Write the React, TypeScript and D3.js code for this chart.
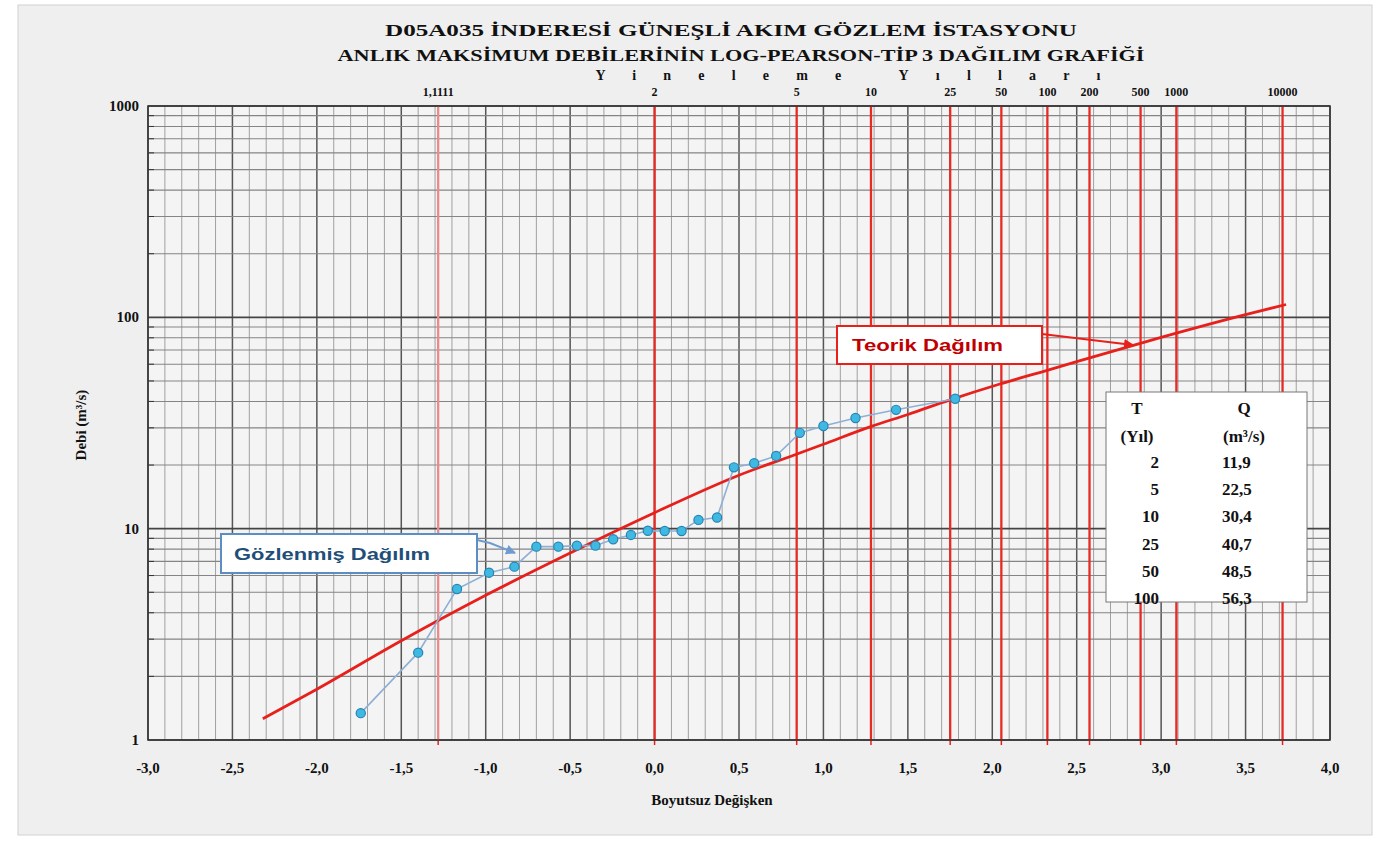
import React from 'react';
import * as d3 from 'd3';

const obsX = [-1.74, -1.40, -1.17, -0.98, -0.83, -0.70, -0.57, -0.46, -0.35, -0.245, -0.14, -0.04, 0.06, 0.16, 0.26, 0.37, 0.47, 0.59, 0.72, 0.86, 1.0, 1.19, 1.43, 1.78];
const obsQ = [1.34, 2.59, 5.18, 6.19, 6.61, 8.22, 8.22, 8.31, 8.31, 8.91, 9.34, 9.78, 9.75, 9.75, 11.0, 11.3, 19.5, 20.4, 22.1, 28.4, 30.6, 33.4, 36.5, 41.2];

// theoretical Log-Pearson III curve
const theoX = [-2.32, -2.0, -1.5, -1.0, -0.5, 0, 0.5, 0.84, 1.0, 1.28, 1.5, 1.75, 2.05, 2.33, 2.5, 3.0, 3.5, 3.74];
const theoQ = [1.26, 1.74, 2.95, 4.84, 7.67, 11.9, 17.9, 22.5, 25.1, 30.4, 34.7, 40.7, 48.5, 56.3, 61.7, 80.4, 103, 115];

// return period lines (top axis)
const returnLabels = ['1,1111', '2', '5', '10', '25', '50', '100', '200', '500', '1000', '10000'];
const returnZ = [-1.2816, 0, 0.8416, 1.2816, 1.7507, 2.0537, 2.3263, 2.5758, 2.8782, 3.0902, 3.719];

// table
const tableT = ['2', '5', '10', '25', '50', '100'];
const tableQ = ['11,9', '22,5', '30,4', '40,7', '48,5', '56,3'];

const xTicks = [-3, -2.5, -2, -1.5, -1, -0.5, 0, 0.5, 1, 1.5, 2, 2.5, 3, 3.5, 4];
const yTicks = [1, 10, 100, 1000];

const W = 1386, H = 841;
const L = 148, R = 1330, T = 106, B = 740;
const serif = "'Liberation Serif', 'DejaVu Serif', serif";
const sans = "'Liberation Sans', Arial, sans-serif";

export default function App() {
  const x = d3.scaleLinear().domain([-3, 4]).range([L, R]);
  const y = d3.scaleLog().domain([1, 1000]).range([B, T]);

  const minorX = d3.range(-30, 41).map(i => i / 10);
  const minorY: number[] = [];
  [1, 10, 100].forEach(d => { for (let m = 2; m <= 9; m++) minorY.push(d * m); });

  const theoLine = d3.line<number>()
    .x((d, i) => x(theoX[i]))
    .y((d, i) => y(theoQ[i]))
    .curve(d3.curveMonotoneX);
  const obsLine = d3.line<number>()
    .x((d, i) => x(obsX[i]))
    .y((d, i) => y(obsQ[i]));

  const fmt = (v: number) => v.toFixed(1).replace('.', ',');

  return (
    <svg width={W} height={H} style={{ position: 'absolute', left: 0, top: 0 }}>
      <defs>
        <marker id="arrRed" viewBox="0 0 10 10" refX="9" refY="5" markerWidth="5" markerHeight="5" orient="auto">
          <path d="M0,0 L10,5 L0,10 z" fill="#e8201c" />
        </marker>
        <marker id="arrBlue" viewBox="0 0 10 10" refX="9" refY="5" markerWidth="5" markerHeight="5" orient="auto">
          <path d="M0,0 L10,5 L0,10 z" fill="#6f9bd0" />
        </marker>
      </defs>
      <rect x={0} y={0} width={W} height={H} fill="#ffffff" />
      <rect x={18} y={5} width={1354} height={830} fill="#efefef" stroke="#d2d2d2" />

      {/* titles */}
      <g fontFamily={serif} fontWeight="bold" fill="#111" textAnchor="middle">
        <text x={731} y={36} fontSize={17} textLength={692} lengthAdjust="spacingAndGlyphs">D05A035 İNDERESİ GÜNEŞLİ AKIM GÖZLEM İSTASYONU</text>
        <text x={741} y={61} fontSize={17} textLength={807} lengthAdjust="spacingAndGlyphs">ANLIK MAKSİMUM DEBİLERİNİN LOG-PEARSON-TİP 3 DAĞILIM GRAFİĞİ</text>
        <text x={848} y={80} fontSize={14} textLength={505} lengthAdjust="spacing">Yineleme Yılları</text>
      </g>

      {/* plot area */}
      <rect x={L} y={T} width={R - L} height={B - T} fill="#f4f4f4" />
      <g>
        {minorX.map((v, i) => (
          <line key={'vx' + i} x1={x(v)} x2={x(v)} y1={T} y2={B}
            stroke={i % 5 === 0 ? '#555' : '#a0a0a0'} strokeWidth={i % 5 === 0 ? 1.5 : 1} />
        ))}
        {minorY.map((v, i) => (
          <line key={'hy' + i} x1={L} x2={R} y1={y(v)} y2={y(v)} stroke="#858585" strokeWidth={1.1} />
        ))}
        {yTicks.map((v, i) => (
          <line key={'hd' + i} x1={L} x2={R} y1={y(v)} y2={y(v)} stroke="#444" strokeWidth={1.6} />
        ))}
        {/* left inner ticks */}
        {minorY.map((v, i) => (
          <line key={'lt' + i} x1={L} x2={L + 6} y1={y(v)} y2={y(v)} stroke="#333" strokeWidth={1} />
        ))}
      </g>

      {/* return period red lines */}
      <g>
        {returnZ.map((z, i) => (
          <g key={'rp' + i}>
            <line x1={x(z)} x2={x(z)} y1={T} y2={B} stroke={i === 0 ? '#ec8a8a' : '#e62a24'} strokeWidth={2.3} />
            <line x1={x(z)} x2={x(z)} y1={B} y2={B + 5} stroke="#e8201c" strokeWidth={1.5} />
            <text x={x(z)} y={96} fontSize={12} fontFamily={serif} fontWeight="bold" textAnchor="middle" fill="#111">{returnLabels[i]}</text>
          </g>
        ))}
      </g>

      <rect x={L} y={T} width={R - L} height={B - T} fill="none" stroke="#333" strokeWidth={1.5} />

      {/* theoretical curve */}
      <path d={theoLine(theoX) || ''} fill="none" stroke="#e8201c" strokeWidth={2.8} />

      {/* observed */}
      <path d={obsLine(obsX) || ''} fill="none" stroke="#8fb0d4" strokeWidth={1.6} />
      {obsX.map((v, i) => (
        <circle key={'o' + i} cx={x(v)} cy={y(obsQ[i])} r={4.6} fill="#3fb8e2" stroke="#2785b5" strokeWidth={1.2} />
      ))}

      {/* axes labels */}
      <g fontFamily={serif} fontWeight="bold" fontSize={15} fill="#111">
        {yTicks.map((v, i) => (
          <text key={'yl' + i} x={139} y={y(v) + 5} textAnchor="end">{v}</text>
        ))}
        {xTicks.map((v, i) => (
          <text key={'xl' + i} x={x(v)} y={773} textAnchor="middle">{fmt(v)}</text>
        ))}
        <text x={712} y={805} textAnchor="middle">Boyutsuz Değişken</text>
        <text transform="translate(86,425) rotate(-90)" textAnchor="middle">Debi (m³/s)</text>
      </g>

      {/* Teorik callout */}
      <line x1={1042} y1={334} x2={1133} y2={345} stroke="#e8201c" strokeWidth={2} markerEnd="url(#arrRed)" />
      <rect x={837} y={326} width={205} height={38} fill="#fff" stroke="#e8201c" strokeWidth={2} />
      <text x={852} y={351} fontFamily={sans} fontWeight="bold" fontSize={17} fill="#c00000" textLength={151} lengthAdjust="spacingAndGlyphs">Teorik Dağılım</text>

      {/* Gözlenmiş callout */}
      <polyline points="477,540 490,543 515,553" fill="none" stroke="#6f9bd0" strokeWidth={2} markerEnd="url(#arrBlue)" />
      <rect x={221} y={534} width={256} height={39} fill="#fff" stroke="#5b8ec4" strokeWidth={2} />
      <text x={234} y={560} fontFamily={sans} fontWeight="bold" fontSize={17} fill="#1f4e79" textLength={196} lengthAdjust="spacingAndGlyphs">Gözlenmiş Dağılım</text>

      {/* table */}
      <rect x={1106} y={392} width={201} height={210} fill="#fff" stroke="#777" strokeWidth={1} />
      <g fontFamily={serif} fontWeight="bold" fontSize={17} fill="#111">
        <text x={1137} y={414} textAnchor="middle">T</text>
        <text x={1244} y={414} textAnchor="middle">Q</text>
        <text x={1137} y={442} textAnchor="middle">(Yıl)</text>
        <text x={1244} y={442} textAnchor="middle">(m³/s)</text>
        {tableT.map((t, i) => (
          <g key={'tr' + i}>
            <text x={1159} y={468 + i * 27.2} textAnchor="end">{t}</text>
            <text x={1222} y={468 + i * 27.2}>{tableQ[i]}</text>
          </g>
        ))}
      </g>
    </svg>
  );
}
